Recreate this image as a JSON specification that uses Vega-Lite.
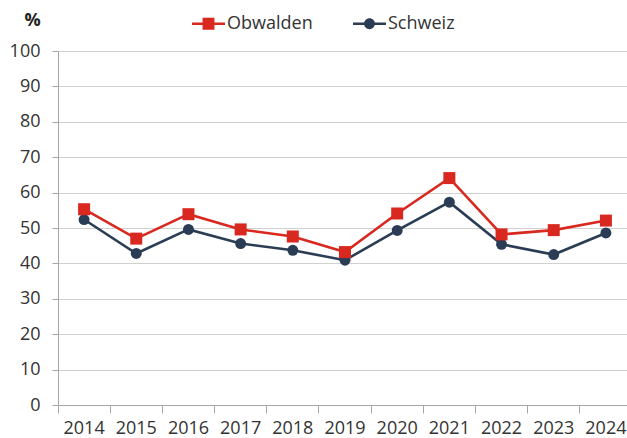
{
  "$schema": "https://vega.github.io/schema/vega-lite/v6.json",
  "width": 569,
  "height": 354,
  "autosize": {"type": "none"},
  "padding": {"left": 58, "top": 51, "right": 0, "bottom": 33},
  "background": "white",
  "config": {
    "view": {"stroke": null},
    "font": "Open Sans",
    "axis": {"labelFont": "Open Sans", "labelFontSize": 18, "labelColor": "#333333", "domainColor": "#a6a6a6", "tickColor": "#a6a6a6", "gridColor": "#d0d0d0"}
  },
  "data": {
    "values": [
      {"year": "2014", "series": "Obwalden", "value": 55.3},
      {"year": "2015", "series": "Obwalden", "value": 47.0},
      {"year": "2016", "series": "Obwalden", "value": 53.9},
      {"year": "2017", "series": "Obwalden", "value": 49.6},
      {"year": "2018", "series": "Obwalden", "value": 47.6},
      {"year": "2019", "series": "Obwalden", "value": 43.2},
      {"year": "2020", "series": "Obwalden", "value": 54.1},
      {"year": "2021", "series": "Obwalden", "value": 64.1},
      {"year": "2022", "series": "Obwalden", "value": 48.2},
      {"year": "2023", "series": "Obwalden", "value": 49.4},
      {"year": "2024", "series": "Obwalden", "value": 52.1},
      {"year": "2014", "series": "Schweiz", "value": 52.4},
      {"year": "2015", "series": "Schweiz", "value": 42.8},
      {"year": "2016", "series": "Schweiz", "value": 49.6},
      {"year": "2017", "series": "Schweiz", "value": 45.6},
      {"year": "2018", "series": "Schweiz", "value": 43.7},
      {"year": "2019", "series": "Schweiz", "value": 40.9},
      {"year": "2020", "series": "Schweiz", "value": 49.3},
      {"year": "2021", "series": "Schweiz", "value": 57.3},
      {"year": "2022", "series": "Schweiz", "value": 45.4},
      {"year": "2023", "series": "Schweiz", "value": 42.5},
      {"year": "2024", "series": "Schweiz", "value": 48.6}
    ]
  },
  "encoding": {
    "x": {
      "field": "year", "type": "ordinal",
      "scale": {"type": "band", "paddingInner": 0, "paddingOuter": 0, "range": [0, 574]},
      "axis": {"title": null, "labelAngle": 0, "bandPosition": 0, "tickSize": 8, "labelPadding": 6, "domainColor": "#a6a6a6", "grid": false}
    },
    "y": {
      "field": "value", "type": "quantitative",
      "scale": {"domain": [0, 100], "nice": false, "zero": true},
      "axis": {"values": [0, 10, 20, 30, 40, 50, 60, 70, 80, 90, 100], "tickSize": 6, "labelPadding": 12, "grid": true,
        "title": "%", "titleAngle": 0, "titleX": -26, "titleY": -26, "titleAlign": "center", "titleBaseline": "alphabetic",
        "titleFont": "Open Sans", "titleFontSize": 18, "titleFontWeight": "bold", "titleColor": "#222222"}
    }
  },
  "layer": [
    {
      "transform": [{"filter": "datum.series === 'Schweiz'"}],
      "mark": {"type": "line", "color": "#2b3d55", "strokeWidth": 2.6},
      "encoding": {}
    },
    {
      "transform": [{"filter": "datum.series === 'Schweiz'"}],
      "mark": {"type": "point", "shape": "circle", "filled": true, "opacity": 1, "color": "#2b3d55", "size": 120},
      "encoding": {}
    },
    {
      "transform": [{"filter": "datum.series === 'Obwalden'"}],
      "mark": {"type": "line", "color": "#d9281f", "strokeWidth": 2.6},
      "encoding": {}
    },
    {
      "transform": [{"filter": "datum.series === 'Obwalden'"}],
      "mark": {"type": "point", "shape": "square", "filled": true, "opacity": 1, "color": "#d9281f", "size": 144},
      "encoding": {}
    },
    {
      "transform": [{"filter": "false"}],
      "mark": {"type": "point", "filled": true, "opacity": 1},
      "encoding": {
        "color": {
          "field": "series", "type": "nominal",
          "scale": {"domain": ["Obwalden", "Schweiz"], "range": ["#d9281f", "#2b3d55"]},
          "legend": {
            "orient": "none", "legendX": 134, "legendY": -44, "direction": "horizontal", "title": null,
            "labelFont": "Open Sans", "labelFontSize": 18, "labelColor": "#333333", "labelOffset": 2,
            "symbolSize": 1089, "symbolStrokeWidth": 0, "symbolOpacity": 1, "columnPadding": 40, "padding": 0
          }
        },
        "shape": {
          "field": "series", "type": "nominal",
          "scale": {"domain": ["Obwalden", "Schweiz"], "range": [
            "M-1,-0.075H-0.3V0.075H-1Z M0.3,-0.075H1V0.075H0.3Z M-0.36,-0.36H0.36V0.36H-0.36Z",
            "M-1,-0.075H-0.3V0.075H-1Z M0.3,-0.075H1V0.075H0.3Z M-0.33,0A0.33,0.33 0 1,1 0.33,0A0.33,0.33 0 1,1 -0.33,0Z"
          ]}
        }
      }
    }
  ]
}
